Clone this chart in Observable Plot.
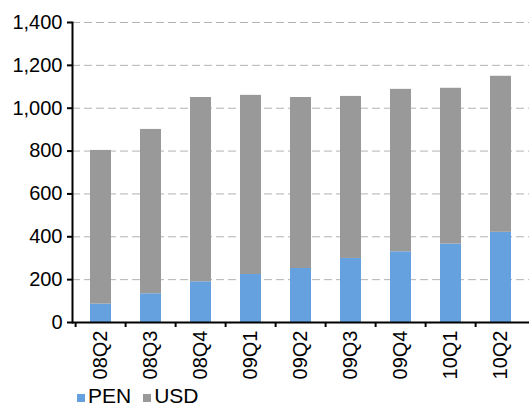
<!DOCTYPE html>
<html>
<head>
<meta charset="utf-8">
<script src="https://cdn.jsdelivr.net/npm/d3@7"></script>
<script src="https://cdn.jsdelivr.net/npm/@observablehq/plot@0.6"></script>
<style>
  html, body { margin: 0; padding: 0; background: #fff; }
  body { font-family: Arial, "Liberation Sans", sans-serif; width: 529px; height: 406px; position: relative; overflow: hidden; }
  #legend { position: absolute; left: 77px; top: 384px; display: flex; align-items: center; font-size: 21px; color: #000; }
  #legend .item { display: flex; align-items: center; margin-right: 12px; }
  #legend .sw { width: 8px; height: 8px; margin-right: 3px; margin-top: 4px; }
</style>
</head>
<body>
<div id="chart"></div>
<div id="legend"></div>
<script>
// Quarterly deposits by currency, stacked
const quarters = ["08Q2", "08Q3", "08Q4", "09Q1", "09Q2", "09Q3", "09Q4", "10Q1", "10Q2"];
const pen = [86, 134, 190, 224, 252, 299, 330, 366, 421];
const usd = [717, 767, 860, 836, 798, 756, 758, 727, 728];
const yTicks = [0, 200, 400, 600, 800, 1000, 1200, 1400];
const seriesNames = ["PEN", "USD"];
const seriesColors = ["#66a1df", "#999999"];

const rows = quarters.flatMap((q, i) => [
  {quarter: q, series: "PEN", value: pen[i]},
  {quarter: q, series: "USD", value: usd[i]}
]);

const width = 529, height = 382;
const marginLeft = 72, marginRight = 0;
const step = (width - marginLeft - marginRight) / quarters.length;
const pad = 0.59;

const chart = Plot.plot({
  width, height,
  marginTop: 22, marginBottom: 60, marginLeft, marginRight,
  style: {fontFamily: "Arial, 'Liberation Sans', sans-serif", fontSize: "20px", color: "#000", background: "#fff"},
  x: {domain: quarters, paddingInner: pad, paddingOuter: pad / 2, axis: null, label: null},
  y: {domain: [0, 1400], axis: null, label: null},
  color: {domain: seriesNames, range: seriesColors},
  marks: [
    Plot.gridY(yTicks.slice(1), {stroke: "#b3b3b3", strokeOpacity: 1, strokeWidth: 1, strokeDasharray: "8,4"}),
    Plot.barY(rows, {x: "quarter", y: "value", fill: "series", order: seriesNames}),
    Plot.axisY(yTicks, {label: null, tickSize: 5, tickPadding: 5, tickFormat: d3.format(","), fontSize: 20, stroke: "#000", strokeWidth: 2}),
    Plot.axisX({label: null, tickSize: 5, tickFormat: () => "", dx: -step / 2, stroke: "#000", strokeWidth: 2}),
    Plot.axisX({label: null, tickSize: 0, tickPadding: 8, tickRotate: -90, fontSize: 20}),
    Plot.frame({anchor: "left", stroke: "#000", strokeWidth: 2}),
    Plot.ruleY([0], {stroke: "#000", strokeWidth: 2})
  ]
});
document.getElementById("chart").append(chart);

// Legend below the chart
const legend = document.getElementById("legend");
seriesNames.forEach((name, i) => {
  const item = document.createElement("div");
  item.className = "item";
  const sw = document.createElement("span");
  sw.className = "sw";
  sw.style.background = seriesColors[i];
  const label = document.createElement("span");
  label.textContent = name;
  item.append(sw, label);
  legend.append(item);
});
</script>
</body>
</html>
